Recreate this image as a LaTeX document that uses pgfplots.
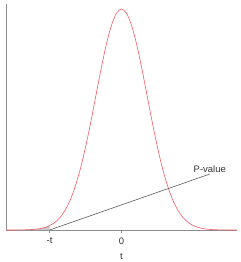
\documentclass[border=0pt]{standalone}
\usepackage{fontspec}
\setmainfont{Liberation Sans}
\usepackage{pgfplots}
\pgfplotsset{compat=1.18}
\begin{document}
\begin{tikzpicture}
\begin{axis}[
  scale only axis, width=231bp, height=226bp,
  xmin=-4.5, xmax=4.5, ymin=0, ymax=0.408,
  axis x line=bottom, axis y line=left,
  axis line style={-, draw=gray!90, line width=0.6pt},
  ytick=\empty,
  xtick={-2.8,0}, xticklabels={-t,0},
  tick align=outside, major tick length=3bp,
  tick style={gray!90, line width=0.5pt},
  /pgf/number format/assume math mode=true,
  tick label style={font=\fontsize{9.5}{11}\selectfont, text=black!80, yshift=-1bp},
  xlabel={t}, xlabel style={font=\fontsize{9.5}{11}\selectfont, text=black!80, yshift=-2bp},
  clip=false,
]
\addplot[fill=gray!45, draw=none] coordinates {
(-4.5,0) (-4.5,0.00002) (-4.4,0.00002) (-4.2,0.00006) (-4.0,0.00013) (-3.8,0.00029) (-3.6,0.00061) (-3.4,0.00123) (-3.2,0.00238) (-3.0,0.00443) (-2.8,0.00792) (-2.8,0)} -- cycle;
\addplot[smooth, draw={rgb,255:red,245;green,90;blue,100}, line width=0.6pt] coordinates {
(-4.5,0.00002) (-4.4,0.00002) (-4.2,0.00006) (-4.0,0.00013) (-3.8,0.00029) (-3.6,0.00061) (-3.4,0.00123) (-3.2,0.00238) (-3.0,0.00443) (-2.8,0.00792) (-2.6,0.01358) (-2.4,0.02239) (-2.2,0.03547) (-2.0,0.05399) (-1.8,0.07895) (-1.6,0.11092) (-1.4,0.14973) (-1.2,0.19419) (-1.0,0.24197) (-0.8,0.28969) (-0.6,0.33322) (-0.4,0.36827) (-0.2,0.39104) (0,0.39894) (0.2,0.39104) (0.4,0.36827) (0.6,0.33322) (0.8,0.28969) (1.0,0.24197) (1.2,0.19419) (1.4,0.14973) (1.6,0.11092) (1.8,0.07895) (2.0,0.05399) (2.2,0.03547) (2.4,0.02239) (2.6,0.01358) (2.8,0.00792) (3.0,0.00443) (3.2,0.00238) (3.4,0.00123) (3.6,0.00061) (3.8,0.00029) (4.0,0.00013) (4.2,0.00006) (4.4,0.00002) (4.5,0.00002)};
\addplot[draw=black!65, line width=0.6pt] coordinates {(-2.8,0) (3.44,0.101)};
\node[anchor=south, font=\fontsize{9.5}{11}\selectfont, text=black!80, inner sep=1bp] at (axis cs:3.44,0.101) {P-value};
\end{axis}
\pgfresetboundingbox
\path[use as bounding box] ([xshift=-6bp,yshift=-32bp]current axis.south west) rectangle ([xshift=4bp,yshift=4bp]current axis.north east);
\end{tikzpicture}
\end{document}
